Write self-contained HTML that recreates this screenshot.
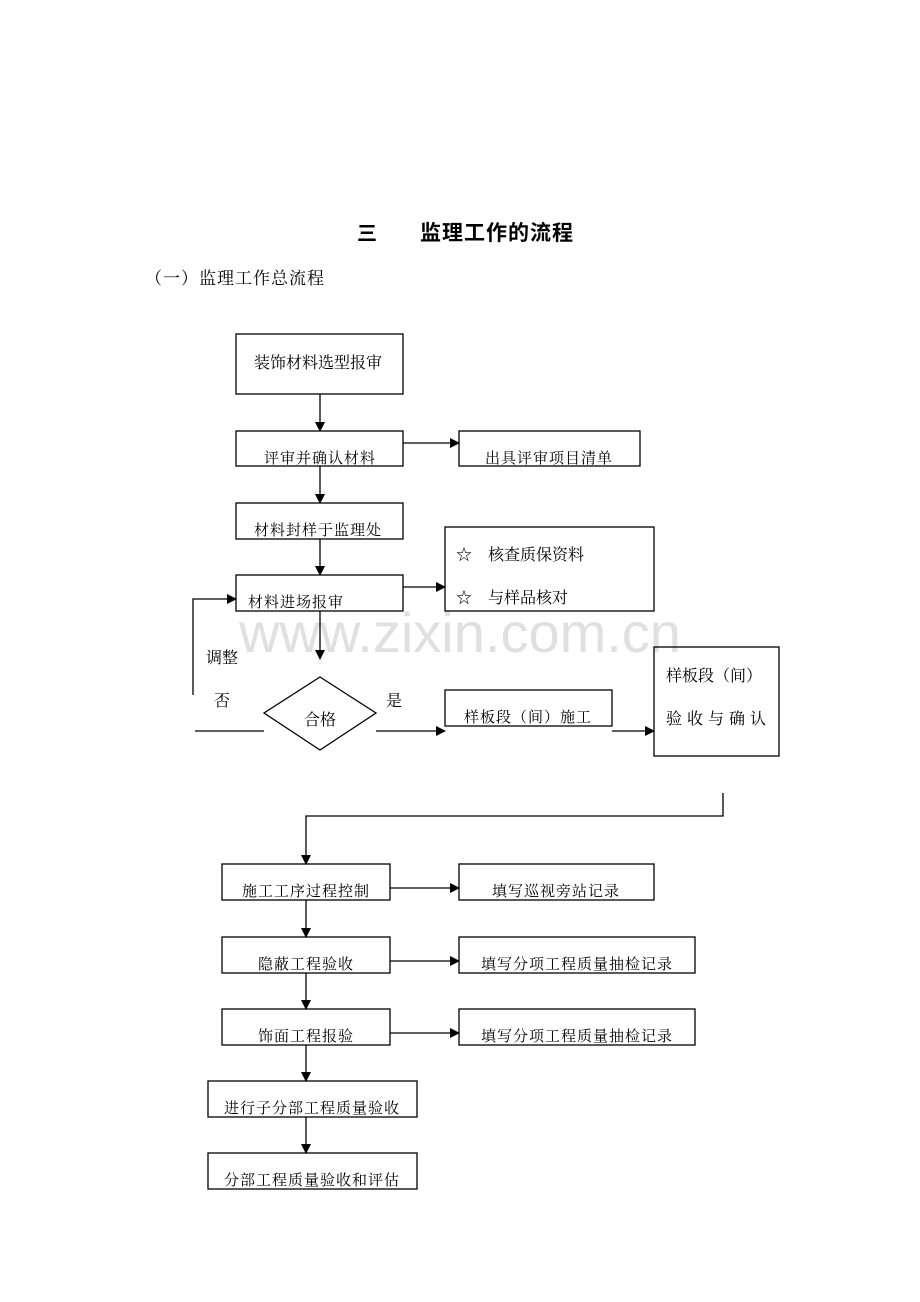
<!DOCTYPE html>
<html><head><meta charset="utf-8"><style>
html,body{margin:0;padding:0;background:#fff;}
svg{display:block;}
text{font-family:"Liberation Serif","Noto Serif CJK SC","Noto Sans CJK SC",serif;fill:#000;}
</style></head><body>
<svg width="920" height="1302" viewBox="0 0 920 1302" xmlns="http://www.w3.org/2000/svg">
<defs>
<marker id="a" markerWidth="10" markerHeight="10" refX="9" refY="5" orient="auto" markerUnits="userSpaceOnUse">
<path d="M0,0 L10,5 L0,10 z" fill="#000"/></marker>
</defs>
<text x="357" y="240" font-size="20" font-weight="bold" style="font-family:'Liberation Sans','Noto Sans CJK SC',sans-serif">三</text>
<text x="420" y="240" font-size="21" font-weight="bold" letter-spacing="1" style="font-family:'Liberation Sans','Noto Sans CJK SC',sans-serif">监理工作的流程</text>
<text x="145" y="284" font-size="17" letter-spacing="1">（一）监理工作总流程</text>

<text x="460" y="652" font-size="56" text-anchor="middle" style="font-family:'Liberation Sans',sans-serif;fill:#e0e0e0">www.zixin.com.cn</text>

<g fill="none" stroke="#000" stroke-width="1.3">
<rect x="236" y="334" width="167" height="60"/>
<rect x="236" y="431" width="167" height="35"/>
<rect x="459" y="431" width="181" height="35"/>
<rect x="236" y="503" width="167" height="36"/>
<rect x="236" y="575" width="167" height="36"/>
<rect x="445" y="527" width="209" height="84"/>
<polygon points="320,677 376,713 320,750 264,713"/>
<rect x="445" y="690" width="167" height="36"/>
<rect x="654" y="647" width="125" height="109"/>
<rect x="222" y="864" width="168" height="36"/>
<rect x="459" y="864" width="195" height="36"/>
<rect x="222" y="937" width="168" height="36"/>
<rect x="459" y="937" width="236" height="36"/>
<rect x="222" y="1009" width="168" height="36"/>
<rect x="459" y="1009" width="236" height="36"/>
<rect x="208" y="1081" width="209" height="36"/>
<rect x="208" y="1153" width="209" height="36"/>

<line x1="320" y1="394" x2="320" y2="431" marker-end="url(#a)"/>
<line x1="403" y1="443" x2="459" y2="443" marker-end="url(#a)"/>
<line x1="320" y1="466" x2="320" y2="503" marker-end="url(#a)"/>
<line x1="320" y1="539" x2="320" y2="575" marker-end="url(#a)"/>
<line x1="403" y1="587" x2="445" y2="587" marker-end="url(#a)"/>
<line x1="320" y1="611" x2="320" y2="659" marker-end="url(#a)"/>
<line x1="195" y1="731" x2="264" y2="731"/>
<polyline points="193,695 193,599 236,599" marker-end="url(#a)"/>
<line x1="376" y1="731" x2="445" y2="731" marker-end="url(#a)"/>
<line x1="612" y1="731" x2="654" y2="731" marker-end="url(#a)"/>
<polyline points="723,793 723,816 306,816 306,864" marker-end="url(#a)"/>
<line x1="390" y1="888" x2="459" y2="888" marker-end="url(#a)"/>
<line x1="306" y1="900" x2="306" y2="937" marker-end="url(#a)"/>
<line x1="390" y1="961" x2="459" y2="961" marker-end="url(#a)"/>
<line x1="306" y1="973" x2="306" y2="1009" marker-end="url(#a)"/>
<line x1="390" y1="1033" x2="459" y2="1033" marker-end="url(#a)"/>
<line x1="306" y1="1045" x2="306" y2="1081" marker-end="url(#a)"/>
<line x1="306" y1="1117" x2="306" y2="1153" marker-end="url(#a)"/>
</g>

<g font-size="15" letter-spacing="1">
<text x="318" y="368" text-anchor="middle" font-size="16" letter-spacing="0">装饰材料选型报审</text>
<text x="320" y="463" text-anchor="middle">评审并确认材料</text>
<text x="549" y="463" text-anchor="middle">出具评审项目清单</text>
<text x="318" y="535" text-anchor="middle">材料封样于监理处</text>
<text x="248" y="607">材料进场报审</text>
<text x="456" y="560" font-size="16" letter-spacing="0">☆　核查质保资料</text>
<text x="456" y="603" font-size="16" letter-spacing="0">☆　与样品核对</text>
<text x="206" y="663" font-size="16" letter-spacing="0">调整</text>
<text x="214" y="706" font-size="16">否</text>
<text x="386" y="706" font-size="16">是</text>
<text x="320" y="725" text-anchor="middle" font-size="16" letter-spacing="0">合格</text>
<text x="528" y="722" text-anchor="middle">样板段（间）施工</text>
<text x="666" y="681" font-size="16" letter-spacing="0">样板段（间）</text>
<text x="666" y="724" font-size="16" letter-spacing="5">验收与确认</text>
<text x="306" y="896" text-anchor="middle">施工工序过程控制</text>
<text x="556" y="896" text-anchor="middle">填写巡视旁站记录</text>
<text x="306" y="969" text-anchor="middle">隐蔽工程验收</text>
<text x="577" y="969" text-anchor="middle">填写分项工程质量抽检记录</text>
<text x="306" y="1041" text-anchor="middle">饰面工程报验</text>
<text x="577" y="1041" text-anchor="middle">填写分项工程质量抽检记录</text>
<text x="312" y="1113" text-anchor="middle">进行子分部工程质量验收</text>
<text x="312" y="1185" text-anchor="middle">分部工程质量验收和评估</text>
</g>
</svg>
</body></html>
